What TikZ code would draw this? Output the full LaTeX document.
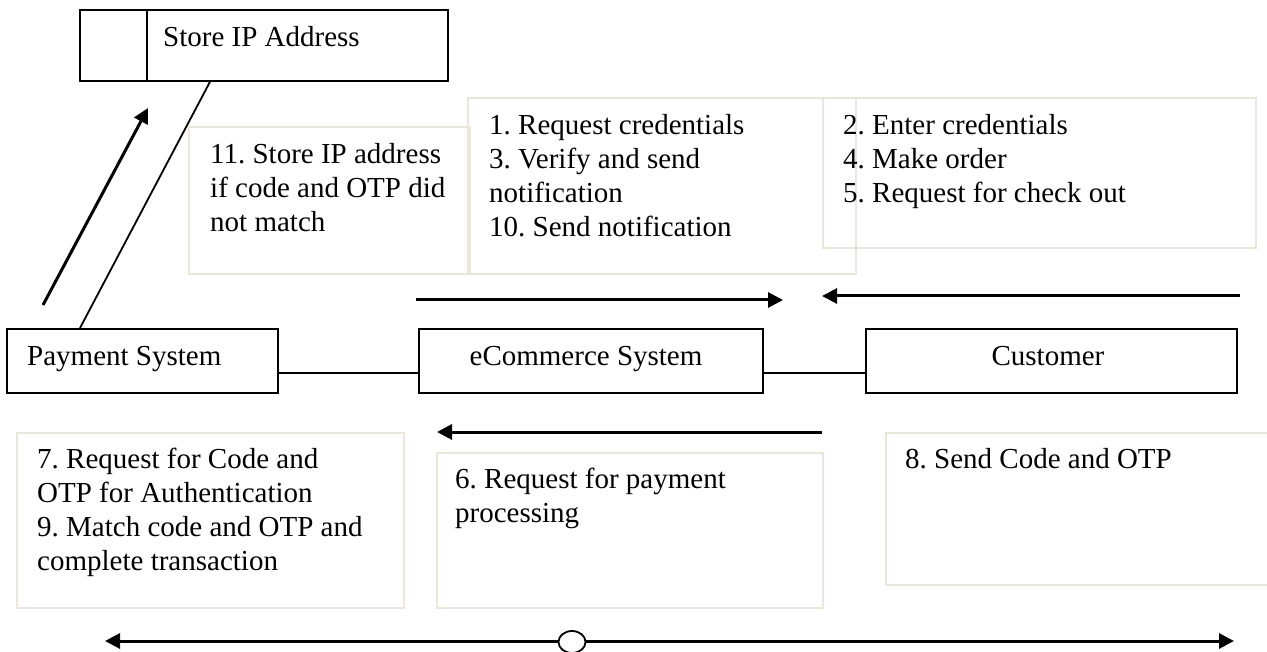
\documentclass[tikz,border=0pt]{standalone}
\usepackage{fontspec}
\setmainfont{Liberation Serif}
\usetikzlibrary{arrows.meta,shapes.geometric}
\definecolor{boxgray}{RGB}{234,230,218}
\frenchspacing
\tikzset{
  mainbox/.style={draw=black, line width=1.8pt, fill=white, inner sep=0pt, anchor=north west},
  notebox/.style={draw=boxgray, line width=2.2pt, inner sep=0pt, anchor=north west},
  lbl/.style={inner sep=0pt, anchor=base west, font=\fontsize{29}{34}\selectfont},
  clbl/.style={inner sep=0pt, anchor=base, font=\fontsize{29}{34}\selectfont},
  flow/.style={line width=3pt, -{Triangle[length=15pt,width=15pt]}},
  conn/.style={line width=1.8pt}
}
\newcommand{\txt}[1]{\parbox[t]{420pt}{\raggedright\frenchspacing\fontsize{29}{34}\selectfont #1}}
\begin{document}
\begin{tikzpicture}[x=1pt,y=-1pt]
\useasboundingbox[fill=white] (0,0) rectangle (1267,652);

% note boxes (light)
\node[notebox, minimum width=281pt, minimum height=147pt] (n11) at (188,126) {};
\node[notebox, minimum width=388pt, minimum height=176pt] (n1) at (467,97) {};
\node[notebox, minimum width=433pt, minimum height=150pt] (n2) at (822,97) {};
\node[notebox, minimum width=387pt, minimum height=175pt] (n7) at (16,432) {};
\node[notebox, minimum width=386pt, minimum height=155pt] (n6) at (436,452) {};
\node[notebox, minimum width=400pt, minimum height=152pt] (n8) at (885,432) {};

\node[lbl] (t11) at (210,164) {\txt{11. Store IP address\\if code and OTP did\\not match}};
\node[lbl] (t1) at (489,135) {\txt{1. Request credentials\\3. Verify and send\\notification\\10. Send notification}};
\node[lbl] (t2) at (843,135) {\txt{2. Enter credentials\\4. Make order\\5. Request for check out}};
\node[lbl] (t7) at (37,468) {\txt{7. Request for Code and\\OTP for Authentication\\9. Match code and OTP and\\complete transaction}};
\node[lbl] (t6) at (455,488) {\txt{6. Request for payment\\processing}};
\node[lbl] (t8) at (905,468) {\txt{8. Send Code and OTP}};

% store IP box
\node[mainbox, minimum width=368pt, minimum height=71pt] (store) at (79,9) {};
\draw[conn] ([xshift=68pt]store.north west) -- ([xshift=68pt]store.south west);
\node[lbl] (tstore) at (163,47) {Store IP Address};

% main boxes
\node[mainbox, minimum width=271pt, minimum height=64pt] (pay) at (6,328) {};
\node[mainbox, minimum width=344pt, minimum height=64pt] (ecom) at (418,328) {};
\node[mainbox, minimum width=371pt, minimum height=64pt] (cust) at (865,328) {};
\node[lbl] (tpay) at (27,366) {Payment System};
\node[clbl] (tecom) at (586,366) {eCommerce System};
\node[clbl] (tcust) at (1048,366) {Customer};

% connectors
\draw[conn] ([xshift=131pt]store.south west) -- ([xshift=74pt]pay.north west);
\draw[conn] ([yshift=-12pt]pay.east) -- ([yshift=-12pt]ecom.west);
\draw[conn] ([yshift=-12pt]ecom.east) -- ([yshift=-12pt]cust.west);

% flow arrows
\coordinate (a1s) at (43,305); \coordinate (a1e) at (148,108);
\draw[flow] (a1s) -- (a1e);
\coordinate (a2s) at (416,300); \coordinate (a2e) at (783,300);
\draw[flow] (a2s) -- (a2e);
\coordinate (a3s) at (1240,296); \coordinate (a3e) at (822,296);
\draw[flow] (a3s) -- (a3e);
\coordinate (a4s) at (822,432); \coordinate (a4e) at (437,432);
\draw[flow] (a4s) -- (a4e);

% bottom double arrow with circle
\coordinate (bl) at (105,641); \coordinate (br) at (1234,641);
\draw[line width=3pt, {Triangle[length=15pt,width=15pt]}-{Triangle[length=15pt,width=15pt]}] (bl) -- (br);
\node[draw=black, line width=1.8pt, fill=white, ellipse, minimum width=27pt, minimum height=22pt, inner sep=0pt] (circ) at (572,642) {};
\end{tikzpicture}
\end{document}
